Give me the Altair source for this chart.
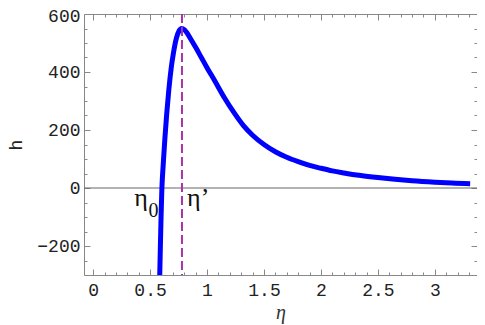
import altair as alt
import pandas as pd

# curve h(eta)
eta = [0.585, 0.5905, 0.5965, 0.6015, 0.604, 0.609, 0.615, 0.63, 0.646, 0.665,
       0.685, 0.705, 0.73, 0.755, 0.778, 0.80, 0.82, 0.85, 0.90, 0.95, 1.0,
       1.07, 1.15, 1.24, 1.32, 1.4, 1.5, 1.6, 1.7, 1.8, 1.9, 2.0, 2.1, 2.2,
       2.35, 2.5, 2.65, 2.8, 3.0, 3.15, 3.31]
h = [-300, -200, -100, -30, 0, 40, 78, 170, 255, 340,
     412, 465, 515, 542, 550, 546, 537, 518, 485, 450, 415,
     368, 313, 258, 215, 182, 150, 125, 106, 91, 78, 68, 59, 52,
     43, 36, 30, 25, 20, 17, 15]

eta_prime = [0.78]
zero_level = [0]

x_domain = [-0.08, 3.37]
y_domain = [-300, 600]
x_major = [0, 0.5, 1, 1.5, 2, 2.5, 3]
x_minor = [0, 0.1, 0.2, 0.3, 0.4, 0.5, 0.6, 0.7, 0.8, 0.9, 1, 1.1, 1.2, 1.3,
           1.4, 1.5, 1.6, 1.7, 1.8, 1.9, 2, 2.1, 2.2, 2.3, 2.4, 2.5, 2.6, 2.7,
           2.8, 2.9, 3, 3.1, 3.2, 3.3]
y_major = [-200, 0, 200, 400, 600]
y_minor = [-300, -250, -200, -150, -100, -50, 0, 50, 100, 150, 200, 250, 300,
           350, 400, 450, 500, 550, 600]

# annotations: eta_0 (eta + subscript 0), eta'
sub_text = ["η", "0"]
sub_x = [0.42, 0.53]
sub_y = [-63, -100]
sub_size = [26, 20]
prime_text = ["η’"]
prime_x = [0.825]
prime_y = [-63]

W, H = 393, 261
FRAME = "#888888"
MONO = "Liberation Mono"

curve_df = pd.DataFrame({"eta": eta, "h": h})
prime_df = pd.DataFrame({"eta": eta_prime})
zero_df = pd.DataFrame({"h": zero_level})
sub_df = pd.DataFrame({"t": sub_text, "x": sub_x, "y": sub_y, "s": sub_size})
pl_df = pd.DataFrame({"t": prime_text, "x": prime_x, "y": prime_y})

xs = alt.Scale(domain=x_domain, nice=False, zero=False)
ys = alt.Scale(domain=y_domain, nice=False, zero=False)

x_major_test = "abs(datum.value*2 - round(datum.value*2)) < 0.001"
y_major_test = "datum.value % 200 === 0"


def tick_axis(orient, offset, values, test):
    return alt.Axis(orient=orient, offset=offset, values=values, labels=False,
                    domain=False, grid=False, title=None, ticks=True,
                    tickColor=FRAME, tickWidth=1,
                    tickSize={"condition": {"test": test, "value": 6}, "value": 3})


curve = alt.Chart(curve_df).mark_line(
    color="#0000FF", strokeWidth=5, interpolate="monotone", clip=True
).encode(
    x=alt.X("eta:Q", scale=xs, axis=alt.Axis(
        orient="bottom", values=x_major, labelExpr="toString(datum.value)",
        ticks=False, domain=False, grid=False, labelFont=MONO, labelFontSize=18,
        labelColor="#222222", labelPadding=6, title="η", titleFont="Liberation Serif",
        titleFontStyle="italic", titleFontWeight="normal", titleFontSize=20,
        titleColor="#333333", titlePadding=3)),
    y=alt.Y("h:Q", scale=ys, axis=alt.Axis(
        orient="left", values=y_major, ticks=False, domain=False, grid=False,
        labelFont=MONO, labelFontSize=18, labelColor="#222222", labelPadding=4,
        labelOffset={"condition": {"test": "datum.value === 600", "value": 2}, "value": 0},
        title="h", titleFont=MONO, titleFontSize=18, titleFontWeight="normal",
        titleColor="#222222", titlePadding=11)),
)

zero_rule = alt.Chart(zero_df).mark_rule(color="#666666", strokeWidth=1).encode(
    y=alt.Y("h:Q", scale=ys, axis=tick_axis("right", -W, y_minor, y_major_test)),
    x=alt.value(0), x2=alt.value(W),
)

bottom_ticks = alt.Chart(zero_df).mark_rule(opacity=0).encode(
    x=alt.X("h:Q", scale=xs, axis=tick_axis("top", -H, x_minor, x_major_test)),
)

prime_rule = alt.Chart(prime_df).mark_rule(
    color="#AA33AA", strokeWidth=2, strokeDash=[9, 4]
).encode(
    x=alt.X("eta:Q", scale=xs, axis=tick_axis("bottom", -H, x_minor, x_major_test)),
)

right_ticks = alt.Chart(zero_df).mark_rule(opacity=0).encode(
    y=alt.Y("h:Q", scale=ys, axis=tick_axis("left", -W, y_minor, y_major_test)),
)

sub_labels = alt.Chart(sub_df).mark_text(
    font="Liberation Serif", color="#111111", baseline="alphabetic", align="center"
).encode(
    x=alt.X("x:Q", scale=xs, axis=None),
    y=alt.Y("y:Q", scale=ys, axis=None),
    text="t:N",
    size=alt.Size("s:Q", scale=None, legend=None),
)

prime_label = alt.Chart(pl_df).mark_text(
    font="Liberation Serif", color="#111111", baseline="alphabetic", align="left",
    fontSize=26
).encode(
    x=alt.X("x:Q", scale=xs, axis=None),
    y=alt.Y("y:Q", scale=ys, axis=None),
    text="t:N",
)

chart = alt.layer(
    zero_rule, bottom_ticks, right_ticks, curve, prime_rule, sub_labels, prime_label
).resolve_axis(x="independent", y="independent").properties(
    width=W, height=H,
    autosize=alt.AutoSizeParams(type="none"),
    padding={"left": 76, "top": 6, "right": 0, "bottom": 50},
).configure_view(stroke=FRAME, strokeWidth=1)

chart.save("out.html", embed_options={"renderer": "svg", "actions": False})
